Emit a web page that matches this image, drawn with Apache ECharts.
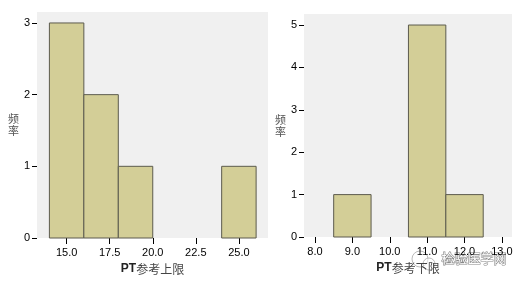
<!DOCTYPE html>
<html>
<head>
<meta charset="utf-8">
<script src="https://cdn.jsdelivr.net/npm/echarts@6/dist/echarts.min.js"></script>
<style>
html,body{margin:0;padding:0;background:#fff;}
#c{width:523px;height:284px;}
</style>
</head>
<body>
<div id="c"></div>
<script>
// Left histogram: PT参考上限 (bin start, bin end, frequency)
var upperBinStart = [14, 16, 18, 24];
var upperBinEnd   = [16, 18, 20, 26];
var upperCounts   = [3, 2, 1, 1];
var upperXTicks   = [15, 17.5, 20, 22.5, 25];
var upperYTicks   = [0, 1, 2, 3];

// Right histogram: PT参考下限
var lowerBinStart = [8.5, 10.5, 11.5];
var lowerBinEnd   = [9.5, 11.5, 12.5];
var lowerCounts   = [1, 5, 1];
var lowerXTicks   = [8, 9, 10, 11, 12, 13];
var lowerYTicks   = [0, 1, 2, 3, 4, 5];

var xNames = ['PT参考上限', 'PT参考下限'];
var yName = '频率';

function rows(s, e, c) {
  return s.map(function (v, i) { return [v, e[i], c[i]]; });
}

var FONT = 'Arial, "Liberation Sans", sans-serif';
var fill = '#d3ce97';
var edge = '#5c5b4e';

function renderBar(params, api) {
  var p0 = api.coord([api.value(0), api.value(2)]);
  var p1 = api.coord([api.value(1), 0]);
  return {
    type: 'rect',
    shape: { x: p0[0], y: p0[1], width: p1[0] - p0[0], height: p1[1] - p0[1] },
    style: { fill: fill, stroke: edge, lineWidth: 1 }
  };
}

function xAxis(idx, min, max, ticks, name, gap) {
  return {
    type: 'value', gridIndex: idx, min: min, max: max,
    axisLine: { show: false },
    splitLine: { show: false },
    axisTick: { show: true, length: 6, customValues: ticks, lineStyle: { color: '#000', width: 1 } },
    axisLabel: { customValues: ticks, margin: 9, color: '#000', fontSize: 11, fontFamily: FONT,
      formatter: function (v) { return v.toFixed(1); } },
    name: '{b|' + name.slice(0, 2) + '}{n|' + name.slice(2) + '}',
    nameLocation: 'middle', nameGap: gap,
    nameTextStyle: { rich: {
      b: { fontWeight: 'bold', fontSize: 12, color: '#222', fontFamily: FONT },
      n: { fontSize: 12, color: '#444', fontFamily: '"Noto Sans CJK SC", sans-serif' }
    } }
  };
}

function yAxis(idx, max, ticks, gap) {
  return {
    type: 'value', gridIndex: idx, min: 0, max: max,
    axisLine: { show: false },
    splitLine: { show: false },
    axisTick: { show: true, length: 5, customValues: ticks, lineStyle: { color: '#000', width: 1 } },
    axisLabel: { customValues: ticks, margin: 7, color: '#000', fontSize: 11, fontFamily: FONT },
    name: yName.split('').join('\n'),
    nameLocation: 'middle', nameRotate: 0, nameGap: gap,
    nameTextStyle: { fontSize: 11, color: '#555', lineHeight: 12, fontFamily: '"Noto Sans CJK SC", sans-serif' }
  };
}

var chart = echarts.init(document.getElementById('c'), null, { renderer: 'canvas' });
chart.setOption({
  animation: false,
  backgroundColor: '#fff',
  grid: [
    { left: 37, top: 12, width: 231, height: 226, show: true, backgroundColor: '#f0f0f0', borderWidth: 0 },
    { left: 304, top: 14, width: 208, height: 223, show: true, backgroundColor: '#f0f0f0', borderWidth: 0 }
  ],
  xAxis: [
    xAxis(0, 13.28, 26.69, upperXTicks, xNames[0], 25),
    xAxis(1, 7.706, 13.27, lowerXTicks, xNames[1], 25)
  ],
  yAxis: [
    yAxis(0, 3.153, upperYTicks, 18),
    yAxis(1, 5.26, lowerYTicks, 16)
  ],
  series: [
    { type: 'custom', xAxisIndex: 0, yAxisIndex: 0, renderItem: renderBar,
      encode: { x: [0, 1], y: 2 }, data: rows(upperBinStart, upperBinEnd, upperCounts) },
    { type: 'custom', xAxisIndex: 1, yAxisIndex: 1, renderItem: renderBar,
      encode: { x: [0, 1], y: 2 }, data: rows(lowerBinStart, lowerBinEnd, lowerCounts) }
  ],
  graphic: [
    { type: 'circle', shape: { cx: 420, cy: 259, r: 8 }, style: { fill: 'rgba(255,255,255,0.6)', stroke: '#bbb', lineWidth: 1 } },
    { type: 'circle', shape: { cx: 429, cy: 264, r: 6 }, style: { fill: 'rgba(255,255,255,0.6)', stroke: '#bbb', lineWidth: 1 } },
    { type: 'text', left: 441, top: 251,
      style: { text: '检验医学网', fontSize: 13, fill: '#fff', stroke: '#888', lineWidth: 1.2,
        fontFamily: '"Noto Sans CJK SC", sans-serif' } }
  ]
});
</script>
</body>
</html>
